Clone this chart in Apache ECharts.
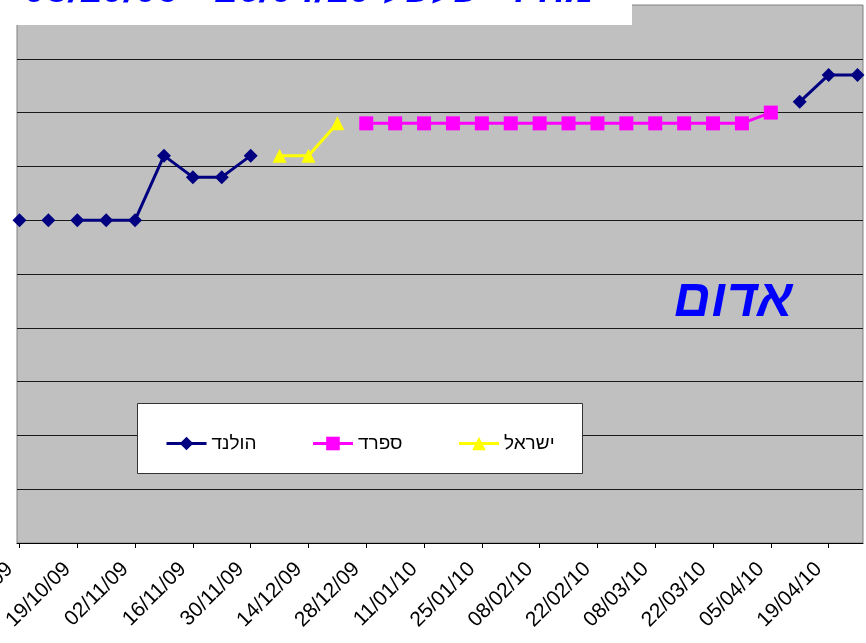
<!DOCTYPE html>
<html>
<head>
<meta charset="utf-8">
<script src="https://cdn.jsdelivr.net/npm/echarts@6/dist/echarts.min.js"></script>
<style>
  html, body { margin: 0; padding: 0; background: #fff; }
  #chart { width: 866px; height: 643px; }
</style>
</head>
<body>
<div id="chart"></div>
<script>
// weekly dates on the x axis
var weeks = ['05/10/09','12/10/09','19/10/09','26/10/09','02/11/09','09/11/09','16/11/09','23/11/09','30/11/09',
             '07/12/09','14/12/09','21/12/09','28/12/09','04/01/10','11/01/10','18/01/10','25/01/10','01/02/10',
             '08/02/10','15/02/10','22/02/10','01/03/10','08/03/10','15/03/10','22/03/10','29/03/10','05/04/10',
             '12/04/10','19/04/10','26/04/10'];

var _ = null;
var holland = [6, 6, 6, 6, 6, 7.2, 6.8, 6.8, 7.2,
               _, _, _, _, _, _, _, _, _, _, _, _, _, _, _, _, _, _,
               8.2, 8.7, 8.7];
// weeks where the holland line is not joined to the week before
var hollandBreaks = [1, 2];

var spain = [_, _, _, _, _, _, _, _, _, _, _, _,
             7.8, 7.8, 7.8, 7.8, 7.8, 7.8, 7.8, 7.8, 7.8, 7.8, 7.8, 7.8, 7.8, 7.8,
             8.0, _, _, _];

var israel = [_, _, _, _, _, _, _, _, _,
              7.2, 7.2, 7.8,
              _, _, _, _, _, _, _, _, _, _, _, _, _, _, _, _, _, _];

var names = ['הולנד', 'ספרד', 'ישראל'];

// split holland into runs so the gaps show like in excel
function runs(values, breaks) {
    var out = [], cur = null;
    values.forEach(function (v, i) {
        if (v === null || breaks.indexOf(i) >= 0) { if (cur) out.push(cur); cur = null; }
        if (v !== null) {
            if (!cur) cur = values.map(function () { return null; });
            cur[i] = v;
        }
    });
    if (cur) out.push(cur);
    return out;
}

function lineSeries(name, data, color, symbol) {
    return {
        name: name,
        type: 'line',
        xAxisIndex: 1,
        yAxisIndex: 1,
        data: data,
        symbol: symbol,
        symbolSize: 14,
        showAllSymbol: true,
        connectNulls: false,
        lineStyle: { color: color, width: 3 },
        itemStyle: { color: color },
        z: 3
    };
}

var series = [];
runs(holland, hollandBreaks).forEach(function (d) {
    series.push(lineSeries(names[0], d, '#000080', 'diamond'));
});
series.push(lineSeries(names[1], spain, '#FF00FF', 'rect'));
series.push(lineSeries(names[2], israel, '#FFFF00', 'triangle'));

var myChart = echarts.init(document.getElementById('chart'));

var option = {
    animation: false,
    backgroundColor: '#ffffff',
    textStyle: { fontFamily: 'Arial' },
    grid: [
        // gray plot area
        { left: 17, right: 3, top: 5, bottom: 100, show: true, outerBoundsMode: 'none',
          backgroundColor: '#C0C0C0', borderColor: '#808080', borderWidth: 1 },
        // data area
        { left: 19.5, right: 8.5, top: 5, bottom: 100, outerBoundsMode: 'none', containLabel: false }
    ],
    xAxis: [
        { gridIndex: 0, type: 'value', min: 0, max: 1,
          axisLine: { show: true, onZero: false, lineStyle: { color: '#000', width: 1 } },
          axisTick: { show: false }, axisLabel: { show: false }, splitLine: { show: false } },
        { gridIndex: 1, type: 'category', data: weeks, boundaryGap: false,
          axisLine: { show: false },
          axisTick: { show: true, interval: 1, length: 5, lineStyle: { color: '#000' } },
          axisLabel: { interval: 1, rotate: 45, fontSize: 21, color: '#000', margin: 13,
                       padding: [0, 14, 0, 0] },
          splitLine: { show: false } }
    ],
    yAxis: [
        { gridIndex: 0, type: 'value', min: 0, max: 10, interval: 1,
          axisLine: { show: false }, axisTick: { show: false }, axisLabel: { show: false },
          splitLine: { show: true, showMaxLine: false, lineStyle: { color: '#1a1a1a', width: 1 } } },
        { gridIndex: 1, type: 'value', min: 0, max: 10, show: false, splitLine: { show: false } }
    ],
    legend: {
        data: names,
        left: 160,
        top: 429,
        padding: 5,
        itemGap: 55,
        itemWidth: 40,
        itemHeight: 17,
        selectedMode: false,
        lineStyle: { width: 3 },
        textStyle: { fontSize: 19, color: '#000', fontFamily: 'Arial' },
        z: 20
    },
    graphic: [
        { type: 'rect', z: 10, shape: { x: 0, y: 0, width: 632, height: 25 },
          style: { fill: '#ffffff' } },
        { type: 'text', z: 11, x: 595, y: -9,
          style: { text: '05/10/09 - 26/04/10 מחירי פלפל', fill: '#0000FF',
                   font: 'italic bold 40px Arial', align: 'right', verticalAlign: 'middle' } },
        { type: 'rect', z: 10, shape: { x: 137.5, y: 403.5, width: 445, height: 70 },
          style: { fill: '#ffffff', stroke: '#333', lineWidth: 1 } },
        { type: 'text', z: 11, x: 733, y: 302,
          style: { text: 'אדום', fill: '#0000FF', font: 'italic bold 52px Arial',
                   align: 'center', verticalAlign: 'middle' } }
    ],
    series: series
};

myChart.setOption(option);
</script>
</body>
</html>
